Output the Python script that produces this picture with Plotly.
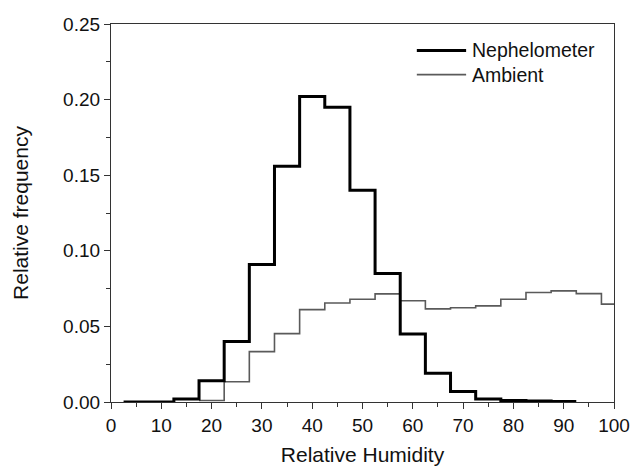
import plotly.graph_objects as go

# Bin centres (RH %, bin width 5) and relative frequencies
neph_centers = [5, 10, 15, 20, 25, 30, 35, 40, 45, 50, 55, 60, 65, 70, 75, 80, 85, 90]
neph_values = [0.0, 0.0, 0.002, 0.014, 0.040, 0.091, 0.156, 0.202, 0.195, 0.140, 0.085,
               0.045, 0.019, 0.007, 0.002, 0.001, 0.0006, 0.0003]

amb_centers = [20, 25, 30, 35, 40, 45, 50, 55, 60, 65, 70, 75, 80, 85, 90, 95, 100]
amb_values = [0.001, 0.0134, 0.0333, 0.0452, 0.0611, 0.0655, 0.0680, 0.0715, 0.0670,
              0.0616, 0.0623, 0.0636, 0.0680, 0.0724, 0.0735, 0.0717, 0.0647]

bin_width = 5
x_ticks = list(range(0, 101, 10))
y_ticks = [0.00, 0.05, 0.10, 0.15, 0.20, 0.25]


def step_xy(centers, values):
    xs = [c - bin_width / 2 for c in centers] + [centers[-1] + bin_width / 2]
    ys = list(values) + [values[-1]]
    return xs, ys


fig = go.Figure()
ax, ay = step_xy(amb_centers, amb_values)
fig.add_trace(go.Scatter(x=ax, y=ay, mode="lines", line_shape="hv", name="Ambient",
                         line=dict(color="#5a5a5a", width=1.6)))
nx, ny = step_xy(neph_centers, neph_values)
fig.add_trace(go.Scatter(x=nx, y=ny, mode="lines", line_shape="hv", name="Nephelometer",
                         line=dict(color="#000000", width=3)))

font = "Liberation Sans, Arial, sans-serif"
axis_common = dict(
    showline=True, linecolor="#333333", linewidth=1.3, mirror=True, automargin=False,
    showgrid=False, zeroline=False, ticks="outside", ticklen=6, tickwidth=1.3,
    tickcolor="#333333", tickfont=dict(family=font, size=19, color="#111111"),
)

fig.update_xaxes(range=[0, 100], tickvals=x_ticks, ticktext=[str(t) for t in x_ticks],
                 minor=dict(dtick=5, ticks="outside", ticklen=4, tickwidth=1.3, tickcolor="#333333"),
                 title=dict(text="Relative Humidity", font=dict(family=font, size=21, color="#111111"),
                            standoff=12),
                 **axis_common)
fig.update_yaxes(range=[0, 0.25], tickvals=y_ticks, ticktext=[f"{t:.2f}" for t in y_ticks],
                 minor=dict(dtick=0.025, ticks="outside", ticklen=4, tickwidth=1.3, tickcolor="#333333"),
                 title=dict(text="Relative frequency", font=dict(family=font, size=21, color="#111111"),
                            standoff=28),
                 **axis_common)

# Legend drawn manually (long sample lines, no box)
legend_items = [("Nephelometer", "#000000", 3, 0.930), ("Ambient", "#5a5a5a", 1.6, 0.866)]
for label, color, width, yp in legend_items:
    fig.add_shape(type="line", xref="paper", yref="paper", x0=0.608, x1=0.706, y0=yp, y1=yp,
                  line=dict(color=color, width=width))
    fig.add_annotation(xref="paper", yref="paper", x=0.714, y=yp, text=label, showarrow=False,
                       xanchor="left", yanchor="middle",
                       font=dict(family=font, size=19.5, color="#111111"))

fig.update_layout(
    width=634, height=469,
    margin=dict(l=111, r=20, t=24, b=67),
    plot_bgcolor="white", paper_bgcolor="white",
    showlegend=False,
)

fig.write_html("out.html")
